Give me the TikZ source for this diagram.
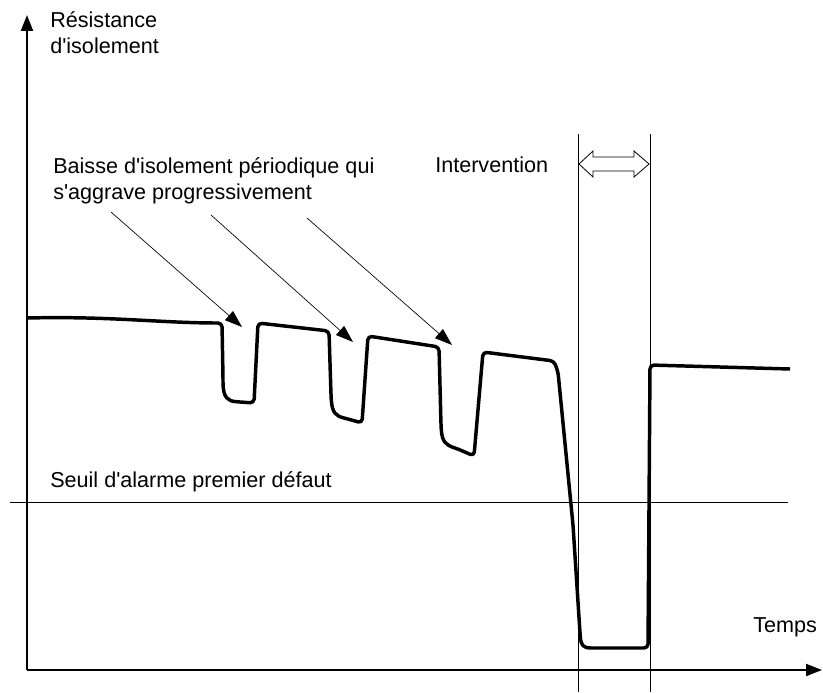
\documentclass[tikz,border=0pt]{standalone}
\usepackage{fontspec}
\setmainfont{Liberation Sans}[Ligatures=TeXOff]
\usetikzlibrary{arrows.meta}

\begin{document}
\begin{tikzpicture}[x=0.75pt,y=-0.75pt]
                          \tikzstyle{every node}+=[inner sep=0pt, font=\fontsize{16.2}{19.5}\selectfont]
                          \tikzstyle{axis}=[black, line width=1.5pt, -{Triangle[length=12pt,width=9pt]}]
                          \tikzstyle{pointer}=[black, line width=0.5pt, -{Triangle[length=13pt,width=9pt]}]
                          \tikzstyle{rule}=[black, line width=0.75pt]
                          \tikzstyle{curve}=[black, line width=2.6pt, line join=round, rounded corners=3]
                          \useasboundingbox (0,0) rectangle (823,692);
                          % axes
                          \coordinate (o) at (27,670);
                          \coordinate (ytop) at (27,15);
                          \coordinate (xend) at (822,670);
                          \draw [axis] (o) -- (ytop);
                          \draw [axis] (o) -- (xend);
                          \node (ylab) [anchor=base west, align=left] at (50,54) {Résistance\\d'isolement};
                          \node (xlab) [anchor=base west] at (753,632) {Temps};
                          % seuil
                          \coordinate (s1) at (10,502);
                          \coordinate (s2) at (788,502);
                          \draw [rule] (s1) -- (s2);
                          \node (seuil) [anchor=base west] at (50,487) {Seuil d'alarme premier défaut};
                          % intervention
                          \coordinate (v1) at (578,134);
                          \coordinate (v2) at (578,692);
                          \coordinate (w1) at (650,134);
                          \coordinate (w2) at (650,692);
                          \draw [rule] (v1) -- (v2);
                          \draw [rule] (w1) -- (w2);
                          \node (interv) [anchor=base west] at (435,172) {Intervention};
                          \draw [black, line width=0.6pt, fill=white] (579,164) -- (593,151) -- (593,157) -- (634,157) -- (634,151) -- (649,164)
                                -- (634,177) -- (634,171) -- (593,171) -- (593,177) -- cycle;
                          % baisses
                          \node (baisse) [anchor=base west, align=left] at (53,199) {Baisse d'isolement périodique qui\\s'aggrave progressivement};
                          \coordinate (a1) at (111,212);
                          \coordinate (b1) at (242,327);
                          \coordinate (a2) at (211,215);
                          \coordinate (b2) at (353,342);
                          \coordinate (a3) at (307,218);
                          \coordinate (b3) at (452,345);
                          \draw [pointer] (a1) -- (b1);
                          \draw [pointer] (a2) -- (b2);
                          \draw [pointer] (a3) -- (b3);
                          % resistance
                          \draw [curve] (27,318) .. controls (110,316) and (160,323) .. (222,323) -- (223,378)
                                .. controls (223,398) and (228,401) .. (240,402) -- (254,403) -- (258,323) -- (329,331)
                                -- (331,395) .. controls (332,413) and (336,416) .. (348,419) -- (362,423) -- (368,336)
                                -- (439,347) -- (441,425) .. controls (442,442) and (446,445) .. (458,449) -- (474,456)
                                -- (483,352) -- (554,361) -- (558,372) -- (573,525) -- (580,633)
                                .. controls (581,645) and (583,648) .. (595,648) -- (648,648) -- (650,365) -- (790,369);
                      \end{tikzpicture}
\end{document}
